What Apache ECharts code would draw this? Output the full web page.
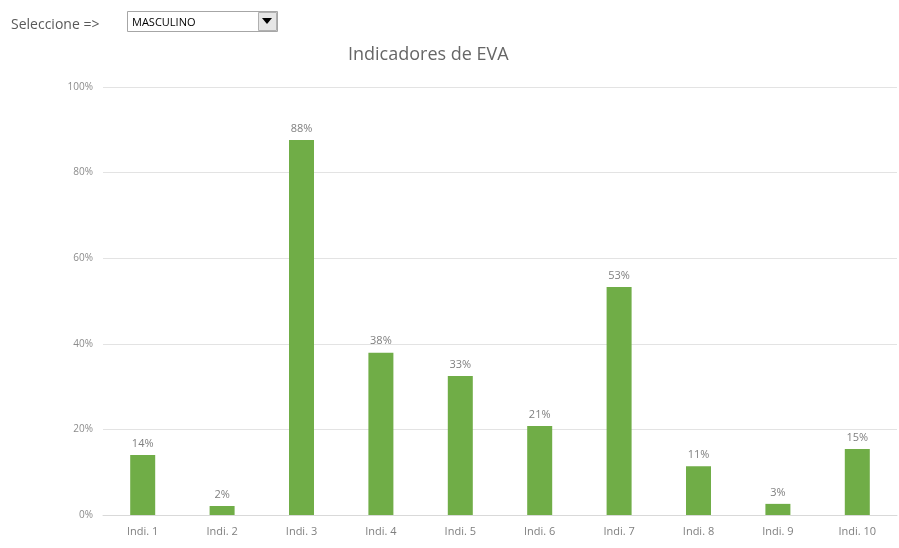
<!DOCTYPE html>
<html><head><meta charset="utf-8">
<script src="https://cdn.jsdelivr.net/npm/echarts@6/dist/echarts.min.js"></script>
<style>html,body{margin:0;padding:0;background:#fff}#c{width:899px;height:548px}</style>
</head><body><div id="c"></div>
<script>
const categories = ['Indi. 1','Indi. 2','Indi. 3','Indi. 4','Indi. 5','Indi. 6','Indi. 7','Indi. 8','Indi. 9','Indi. 10'];
const values = [0.140, 0.021, 0.876, 0.379, 0.325, 0.208, 0.533, 0.114, 0.026, 0.154];
const titleText = 'Indicadores de EVA';
const selectLabel = 'Seleccione =>';
const selectValue = 'MASCULINO';

const chart = echarts.init(document.getElementById('c'));
const font = '"Open Sans", "Noto Sans", sans-serif';
chart.setOption({
  animation: false,
  title: {text: titleText, left: 343, top: 41, textStyle: {fontFamily: font, fontSize: 18, fontWeight: 'normal', color: '#666'}},
  grid: {left: 103, right: 2, top: 87, bottom: 33},
  xAxis: {type: 'category', data: categories,
    axisLine: {lineStyle: {color: '#d9d9d9'}}, axisTick: {show: false},
    axisLabel: {fontFamily: font, fontSize: 11, color: '#7f7f7f', margin: 11}},
  yAxis: {type: 'value', min: 0, max: 1, interval: 0.2,
    axisLine: {show: false}, axisTick: {show: false},
    splitLine: {lineStyle: {color: '#e3e3e3'}},
    axisLabel: {fontFamily: font, fontSize: 10, color: '#8c8c8c', margin: 10,
      formatter: v => Math.round(v*100) + '%'}},
  series: [{type: 'bar', data: values, barWidth: 25, itemStyle: {color: '#70ad47'},
    label: {show: true, position: 'top', distance: 6, fontFamily: font, fontSize: 11, color: '#7f7f7f',
      formatter: p => Math.round(p.value*100) + '%'}}],
  graphic: [
    {type: 'text', left: 11, top: 18, style: {text: selectLabel, font: '14px ' + font, fill: '#595959'}},
    {type: 'rect', shape: {x: 127.5, y: 11.5, width: 150, height: 20}, style: {fill: '#fff', stroke: '#a6a6a6', lineWidth: 1}},
    {type: 'rect', shape: {x: 258.5, y: 12.5, width: 18, height: 18}, style: {fill: '#e6e6e6', stroke: '#b0b0b0', lineWidth: 1}},
    {type: 'polygon', shape: {points: [[262, 18], [272, 18], [267, 24]]}, style: {fill: '#000'}},
    {type: 'text', left: 132, top: 17, style: {text: selectValue, font: '11px ' + font, fill: '#000'}}
  ]
});
</script></body></html>
